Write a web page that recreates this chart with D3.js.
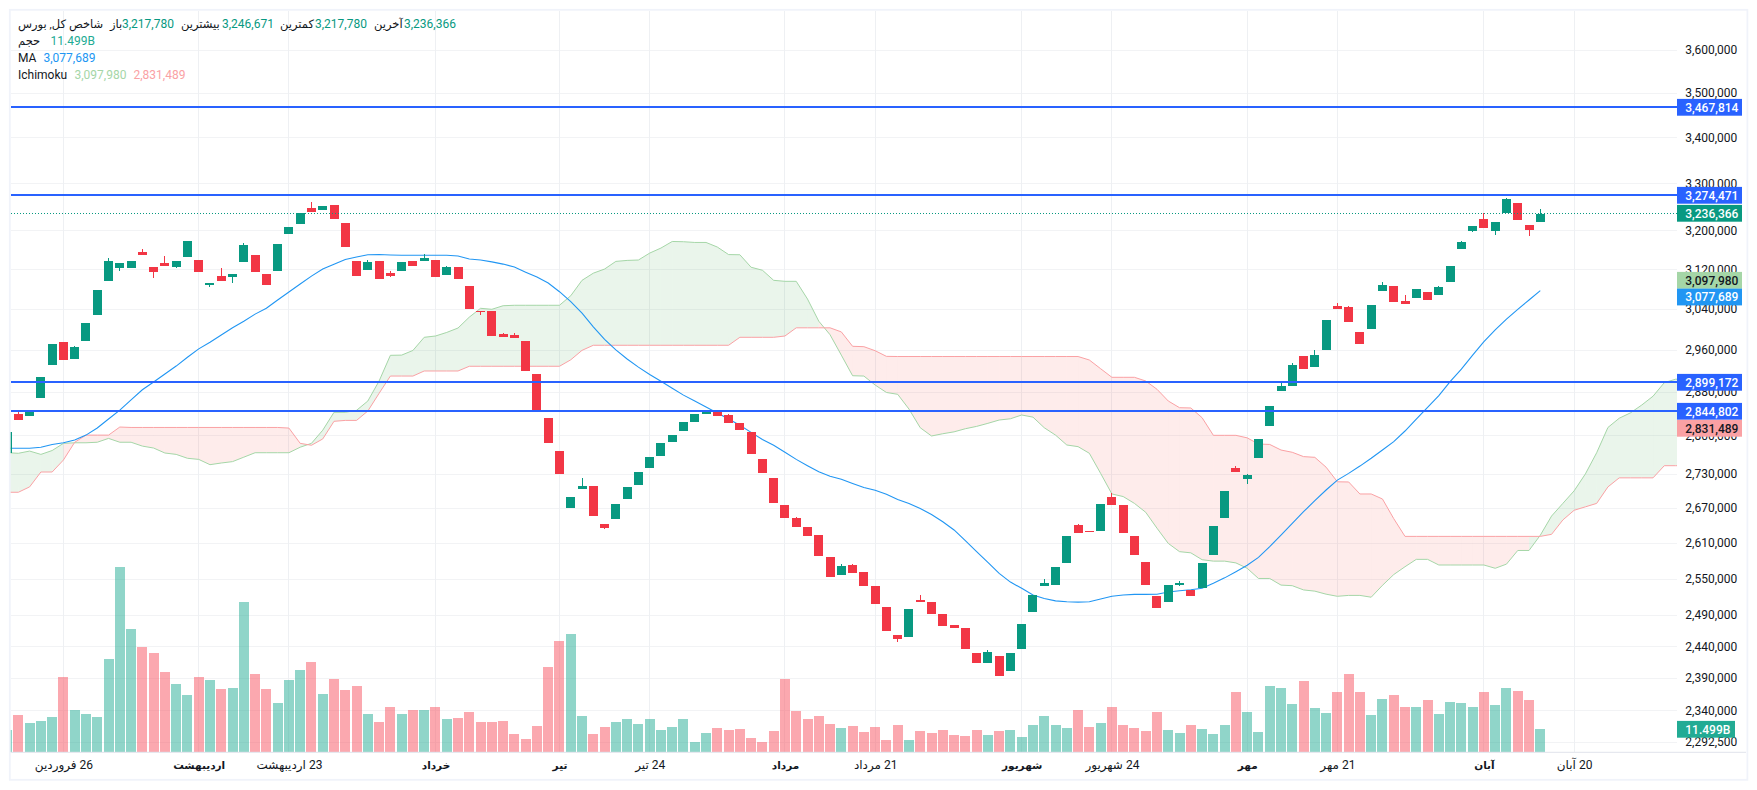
<!DOCTYPE html>
<html lang="fa">
<head>
<meta charset="UTF-8">
<title>شاخص کل</title>
<script src="https://d3js.org/d3.v7.min.js"></script>
<style>
    html, body { margin: 0; background: #fff; }
    svg { display: block; font-family: Roboto, "DejaVu Sans", sans-serif; font-size: 12px; }
    .axis path, .axis line { display: none; }
    .axis text { fill: #131722; font-size: 12px; font-family: Roboto, "DejaVu Sans", sans-serif; }
    .timeAxis text { direction: rtl; }
    .timeAxis text.month { font-weight: 700; font-size: 10.5px; }
    .tagText { font-weight: 500; }
    .legendFa { font-size: 11.5px; }
</style>
</head>
<body>
<svg id="chart" width="1757" height="790"></svg>
<script>
// prices are in thousands, volume in billions
const opens = [
    2769,2840,2836,2870,2932,2976,2944,2978,3029,3097,
    3123,3123,3156,3125,3134,3125,3146,3140,3089,3107,
    3105,3136,3150,3111,3117,3194,3214,3248,3244,3254,
    3216,3138,3119,3138,3113,3117,3138,3138,3140,3109,
    3125,3087,3037,3037,2992,2990,2978,2915,2832,2772,
    2671,2704,2709,2643,2652,2687,2711,2742,2763,2788,
    2808,2825,2840,2845,2838,2823,2807,2758,2724,2676,
    2654,2638,2624,2587,2557,2574,2562,2539,2504,2459,
    2456,2515,2512,2493,2475,2470,2430,2414,2425,2402,
    2436,2496,2539,2540,2577,2642,2631,2631,2690,2676,
    2623,2578,2522,2512,2540,2532,2535,2590,2654,2742,
    2722,2760,2818,2883,2892,2949,2928,2961,3047,3045,
    2996,3002,3077,3087,3057,3063,3075,3069,3095,3162,
    3200,3225,3200,3237,3259,3212,3217.78];
const highs = [
    2807,2843,2845,2909,2972,2976,2969,3013,3079,3144,
    3134,3138,3162,3125,3148,3138,3179,3140,3093,3123,
    3111,3175,3150,3111,3173,3208,3237,3261,3252,3254,
    3216,3138,3140,3138,3117,3136,3138,3152,3140,3128,
    3125,3087,3037,3037,2994,2994,2978,2915,2832,2772,
    2690,2724,2709,2643,2678,2708,2734,2761,2787,2801,
    2825,2840,2845,2845,2840,2823,2807,2758,2724,2676,
    2655,2638,2624,2587,2575,2575,2562,2539,2504,2459,
    2501,2524,2512,2493,2475,2470,2430,2435,2425,2430,
    2476,2524,2550,2570,2623,2643,2631,2678,2697,2676,
    2623,2578,2522,2540,2547,2532,2577,2640,2701,2745,
    2731,2794,2855,2902,2936,2949,2961,3019,3053,3047,
    2996,3049,3095,3087,3069,3081,3075,3087,3127,3179,
    3210,3237,3218,3269,3259,3212,3246.671];
const lows = [
    2769,2829,2836,2870,2932,2942,2944,2978,3029,3097,
    3117,3123,3150,3103,3127,3123,3146,3115,3085,3097,
    3093,3136,3115,3089,3117,3194,3214,3240,3244,3225,
    3167,3107,3119,3101,3105,3117,3127,3138,3105,3109,
    3101,3041,3029,2988,2986,2984,2921,2843,2787,2731,
    2671,2704,2657,2635,2652,2687,2711,2742,2763,2788,
    2808,2825,2840,2836,2823,2810,2767,2733,2680,2654,
    2638,2623,2589,2553,2557,2560,2539,2509,2465,2448,
    2456,2512,2493,2473,2470,2436,2414,2414,2394,2402,
    2436,2496,2539,2540,2577,2628,2630,2631,2676,2628,
    2590,2540,2502,2512,2538,2522,2535,2590,2654,2734,
    2713,2760,2818,2883,2892,2924,2928,2961,3041,3015,
    2972,3002,3077,3055,3051,3063,3059,3069,3095,3162,
    3198,3206,3191,3237,3223,3189,3217.78];
const closes = [
    2807,2829,2845,2909,2972,2942,2967,3013,3079,3138,
    3134,3138,3150,3115,3127,3138,3179,3115,3093,3097,
    3111,3171,3115,3089,3173,3208,3237,3240,3252,3225,
    3167,3107,3136,3101,3107,3136,3127,3144,3105,3125,
    3101,3041,3035,2988,2986,2984,2921,2843,2787,2731,
    2690,2709,2657,2636,2678,2708,2734,2761,2787,2801,
    2825,2840,2845,2836,2823,2810,2767,2733,2680,2654,
    2638,2623,2589,2553,2572,2560,2539,2509,2465,2452,
    2501,2512,2493,2473,2470,2436,2414,2431,2394,2430,
    2476,2524,2543,2570,2623,2628,2630,2678,2676,2628,
    2590,2540,2502,2540,2543,2522,2577,2640,2701,2734,
    2729,2794,2855,2892,2932,2924,2951,3019,3041,3015,
    2972,3049,3089,3055,3051,3081,3059,3085,3127,3177,
    3210,3206,3218,3267,3223,3202,3236.366];
const volumes = [
    11,18.5,14.5,15.5,17.5,37.5,21,19,17.5,46.5,
    92.5,61.5,52.5,49.5,40,34,28.5,37.5,36,31.5,
    32,75,39,31.5,24.5,36,41,45,29,36.5,
    31,33,19,15,22.5,19,21,21,22.5,16.5,
    17,20,15,15,15.5,9,6.5,13,42.5,55.5,
    59,18,9,12.5,15,16.5,14,16.5,11,12.5,
    16.5,5,9.5,12,11,11.5,7,5,10.5,36.5,
    20.5,16.5,18,14,12,13,10,12.5,6,13.5,
    6,10.5,9.5,11,8.5,8,11,8.5,10.5,11,
    7.5,13.5,18,13.5,12,21,12.5,14.5,22.5,13.5,
    12,10.5,20,11,9.5,13.5,11.5,9,13.5,30,
    20,10,33,32,24,35.5,22,19.5,30,39,
    30,18.5,26.5,28.5,22.5,22.5,26,19,25,24.5,
    22.5,30,23.5,32,30.5,26,11.499];
const maValues = [
    2777,2777,2777,2779,2784,2787,2792,2801,2814,2830.5,
    2847,2866,2885,2899.7,2915,2930,2947,2963,2976,2990,
    3004,3017,3031,3042.5,3059,3075,3091,3107,3121.5,3131,
    3141,3146,3150.6,3151,3150,3149.5,3149.5,3149.5,3149.5,3149.5,
    3148,3142,3140,3136,3131.5,3125.5,3115,3105,3093,3075.6,
    3055.6,3033,3006,2981.6,2961,2943.5,2928,2914,2901,2888,
    2875,2864,2853,2841.6,2830.5,2819,2806,2793,2782.5,2770,
    2757,2745.7,2735,2727,2721.5,2714,2707,2702,2695,2686,
    2679,2670,2659.7,2647,2633,2614.6,2596,2578,2559.5,2545,
    2534.7,2523.6,2518,2514,2512.6,2512,2512.6,2517,2521.5,2523.6,
    2524.7,2524.7,2525,2528.6,2530.7,2532.4,2534.7,2543,2552,2562.3,
    2573,2586.4,2604.5,2624.3,2644.5,2664.5,2683.7,2702.5,2720,2732,
    2745,2759,2774,2789,2808.5,2830.5,2852,2874,2900.6,2924,
    2951,2977,3000,3021,3040.5,3059,3077.689];
const leadA = [
    2769,2768,2772,2766,2773,2786,2787,2787,2788,2795,
    2788,2788,2781,2777.5,2768.5,2766,2759,2757,2747.5,2750.5,
    2753,2761,2769,2769,2769,2769,2779,2786,2810,2843,
    2843,2846.6,2864,2901.6,2950.6,2951,2960,2985.5,2988,2995,
    3003.6,3025,3042.5,3040.5,3047.6,3048.5,3048.5,3048.5,3048.5,3048.5,
    3067.5,3098.5,3113,3121.4,3137,3139,3139.8,3154,3164.4,3178,
    3177.5,3176,3176,3166.5,3151,3150.6,3125,3119,3098.5,3096.5,
    3096.5,3061,3017,2990.5,2951,2911.6,2911,2894,2880,2876.5,
    2849,2814.5,2799.4,2803.5,2807,2812.7,2817,2822.6,2828.7,2831,
    2838,2834,2814.5,2801,2783,2780,2768,2732,2695.5,2691,
    2679,2663.5,2636,2610,2596,2594,2582.4,2580,2580,2577,
    2568,2551,2551,2540,2539,2532,2530,2525,2521.5,2523,
    2523,2520,2539.6,2557.5,2570.6,2583,2583,2573.5,2573.5,2573.5,
    2573.5,2573.5,2568,2575,2598,2598,2624,2657,2679,2701,
    2731,2769,2815,2832,2842,2856.5,2873,2898.5,2905,2905];
const leadB = [
    2698.5,2698.5,2708,2734.4,2734.4,2755.9,2788,2801,2801,2801,
    2815.8,2815,2815,2815,2815,2815,2815,2815,2815,2815,
    2815,2815,2815,2815,2815,2813.9,2786,2782.5,2794,2826.3,
    2828,2828,2845.4,2878.4,2911,2911,2911,2920.6,2920.6,2920.6,
    2920.6,2929.6,2929.6,2929.6,2929.6,2929.6,2929.6,2929.6,2929.6,2929.6,
    2942,2960.2,2970,2970,2970,2970,2970,2970,2970,2970,
    2970,2970,2970,2970,2970,2985.5,2985.5,2985.5,2985.5,2988,
    3004,3004,3004,3004,2996,2968,2967.3,2959.5,2948.6,2948.3,
    2948.3,2948.3,2948.3,2948.3,2948.3,2948.3,2948.3,2948.3,2948.3,2948.3,
    2948.3,2948.3,2948.3,2948.3,2948.3,2948.3,2941.6,2925,2908.6,2908.6,
    2908.6,2901.6,2886,2864,2851.5,2851,2833,2800.6,2800.6,2800.6,
    2796,2784.8,2784,2773.9,2769.8,2762,2760.7,2743,2717,2716.7,
    2695.5,2695.5,2686.7,2652.5,2622,2622,2622,2622,2622,2622,
    2622,2622,2622,2622,2622,2622,2622,2625.5,2650.2,2667,
    2673,2679,2708,2724,2724,2724,2724,2745.7,2745.7,2745.7];

const tickPrices = [3600000,3500000,3400000,3300000,3200000,3120000,3040000,2960000,2880000,2800000,
    2730000,2670000,2610000,2550000,2490000,2440000,2390000,2340000,2292500];
const timeTicks = [5,17,25,38,49,57,69,77,90,98,110,118,131,139];
const timeLabels = ["26 فروردین","اردیبهشت","23 اردیبهشت","خرداد","تیر","24 تیر","مرداد","21 مرداد","شهریور","24 شهریور","مهر","21 مهر","آبان","20 آبان"];
const monthNames = ["اردیبهشت","خرداد","تیر","مرداد","شهریور","مهر","آبان"];
const levelLines = [3467814,3274471,2899172,2844802];

const upColor = "#089981", downColor = "#f23645", lineBlue = "#2962ff";
const plotLeft = 10.7, plotRight = 1677, plotTop = 10.7, plotBottom = 752.3;

const svg = d3.select("#chart");

// frame
svg.append("rect").attr("x",9.8).attr("y",9.8).attr("width",1737.6).attr("height",770)
    .attr("fill","#fff").attr("stroke","#f0f3fa").attr("stroke-width",1.8);

svg.append("defs").append("clipPath").attr("id","plotClip").append("rect")
    .attr("x",plotLeft).attr("y",plotTop).attr("width",plotRight-plotLeft).attr("height",plotBottom-plotTop);

const x = d3.scaleLinear().domain([0,136]).range([7.07,1540.3]);
const y = d3.scaleLog().domain([3600000,2292500]).range([50.3,742.3]);
const yk = k => y(k*1000);
const yVol = d3.scaleLinear().domain([0,11.499]).range([752,729]);

// grid
const grid = svg.append("g").attr("stroke-width",1).attr("shape-rendering","crispEdges");
grid.selectAll(".h").data(tickPrices).enter().append("line")
    .attr("x1",plotLeft).attr("x2",plotRight).attr("y1",d=>y(d)).attr("y2",d=>y(d)).attr("stroke","#f2f3f5");
grid.selectAll(".v").data(timeTicks).enter().append("line")
    .attr("x1",d=>x(d)).attr("x2",d=>x(d)).attr("y1",plotTop).attr("y2",plotBottom).attr("stroke","#eef0f3");

const plot = svg.append("g").attr("clip-path","url(#plotClip)");

// volume
plot.append("g").attr("shape-rendering","crispEdges").selectAll("rect").data(volumes).enter().append("rect")
    .attr("x",(d,i)=>x(i)-5).attr("width",10)
    .attr("y",d=>yVol(d)).attr("height",d=>yVol(0)-yVol(d))
    .attr("fill",(d,i)=>closes[i]>=opens[i] ? "#22ab94" : "#f7525f")
    .attr("fill-opacity",.5);

// ichimoku cloud, coloured per segment
const cloudArea = d3.area().x(d=>x(d)).y0(d=>yk(leadA[d])).y1(d=>yk(leadB[d]));
const cloud = plot.append("g");
leadA.slice(1).forEach((a,i)=>{
    cloud.append("path").attr("d",cloudArea([i,i+1]))
        .attr("fill", a>=leadB[i+1] ? "rgba(67,160,71,.11)" : "rgba(244,67,54,.1)");
});
const lineOf = d3.line().x((d,i)=>x(i)).y(d=>yk(d));
plot.append("path").attr("d",lineOf(leadA)).attr("fill","none").attr("stroke","#a5d6a7").attr("stroke-width",1);
plot.append("path").attr("d",lineOf(leadB)).attr("fill","none").attr("stroke","#faa1a4").attr("stroke-width",1);

// moving average
plot.append("path").attr("d",lineOf(maValues)).attr("fill","none").attr("stroke","#2196f3").attr("stroke-width",1.1);

// candles
const candles = plot.append("g").attr("shape-rendering","crispEdges");
candles.selectAll("line").data(opens).enter().append("line")
    .attr("x1",(d,i)=>x(i)).attr("x2",(d,i)=>x(i))
    .attr("y1",(d,i)=>yk(highs[i])).attr("y2",(d,i)=>yk(lows[i]))
    .attr("stroke",(d,i)=>closes[i]>=d ? upColor : downColor);
candles.selectAll("rect").data(opens).enter().append("rect")
    .attr("x",(d,i)=>x(i)-4.5).attr("width",9)
    .attr("y",(d,i)=>yk(Math.max(d,closes[i])))
    .attr("height",(d,i)=>Math.max(1,Math.abs(yk(d)-yk(closes[i]))))
    .attr("fill",(d,i)=>closes[i]>=d ? upColor : downColor);

// horizontal levels and last price
plot.append("line").attr("x1",plotLeft).attr("x2",plotRight).attr("y1",y(3236366)).attr("y2",y(3236366))
    .attr("stroke",upColor).attr("stroke-width",1).attr("stroke-dasharray","1 2").attr("shape-rendering","crispEdges");
plot.selectAll(".level").data(levelLines).enter().append("line")
    .attr("x1",plotLeft).attr("x2",plotRight).attr("y1",d=>Math.floor(y(d))).attr("y2",d=>Math.floor(y(d)))
    .attr("stroke",lineBlue).attr("stroke-width",2).attr("shape-rendering","crispEdges");

// time axis
const timeAxis = d3.axisBottom(x).tickValues(timeTicks).tickSize(0).tickPadding(0)
    .tickFormat((d,i)=>timeLabels[i]);
const timeG = svg.append("g").attr("class","axis timeAxis").attr("transform","translate(0,"+plotBottom+")").call(timeAxis);
timeG.selectAll("text").attr("dy",null).attr("y",17).classed("month",(d,i)=>monthNames.includes(timeLabels[i]));
svg.append("line").attr("x1",plotLeft).attr("x2",1746).attr("y1",plotBottom).attr("y2",plotBottom).attr("stroke","#e0e3eb");

// price axis
const priceAxis = d3.axisRight(y).tickValues(tickPrices).tickSize(0).tickPadding(0).tickFormat(d3.format(","));
svg.append("g").attr("class","axis priceAxis").attr("transform","translate(1685.3,0)").call(priceAxis)
    .selectAll("text").attr("y",-0.5);

// axis tags
const tags = [
    {text:"3,467,814", y:107.3, fill:lineBlue, color:"#fff", w:65},
    {text:"3,274,471", y:195.3, fill:lineBlue, color:"#fff", w:65},
    {text:"3,236,366", y:213.3, fill:upColor, color:"#fff", w:65},
    {text:"3,097,980", y:280.3, fill:"#a5d6a7", color:"#131722", w:65},
    {text:"3,077,689", y:297, fill:"#2196f3", color:"#fff", w:65},
    {text:"2,899,172", y:382.3, fill:lineBlue, color:"#fff", w:65},
    {text:"2,844,802", y:411.3, fill:lineBlue, color:"#fff", w:65},
    {text:"2,831,489", y:428.3, fill:"#faa1a4", color:"#131722", w:65},
    {text:"11.499B", y:729.3, fill:"#22ab94", color:"#fff", w:58}
];
const tagG = svg.append("g").selectAll("g").data(tags).enter().append("g");
tagG.append("rect").attr("x",1677).attr("y",d=>d.y-8.4).attr("width",d=>d.w).attr("height",16.8).attr("fill",d=>d.fill);
tagG.append("text").attr("class","tagText").attr("x",1685.3).attr("y",d=>d.y+4.2).attr("fill",d=>d.color).text(d=>d.text);

// legend
const legendRows = [
    {x:18, y:28, t:"شاخص کل, بورس", c:"#131722", fa:true},
    {x:110, y:28, t:"باز", c:"#131722", fa:true},
    {x:122, y:28, t:"3,217,780", c:upColor},
    {x:181, y:28, t:"بیشترین", c:"#131722", fa:true},
    {x:222, y:28, t:"3,246,671", c:upColor},
    {x:280, y:28, t:"کمترین", c:"#131722", fa:true},
    {x:315, y:28, t:"3,217,780", c:upColor},
    {x:374, y:28, t:"آخرین", c:"#131722", fa:true},
    {x:404, y:28, t:"3,236,366", c:upColor},
    {x:18, y:45, t:"حجم", c:"#131722", fa:true},
    {x:50.5, y:45, t:"11.499B", c:"#22ab94"},
    {x:18, y:62, t:"MA", c:"#131722"},
    {x:43.5, y:62, t:"3,077,689", c:"#2196f3"},
    {x:18, y:79, t:"Ichimoku", c:"#131722"},
    {x:74.5, y:79, t:"3,097,980", c:"#a5d6a7"},
    {x:133.5, y:79, t:"2,831,489", c:"#faa1a4"}
];
svg.append("g").selectAll("text").data(legendRows).enter().append("text")
    .attr("class",d=>d.fa ? "legendFa" : null)
    .attr("x",d=>d.x).attr("y",d=>d.y).attr("fill",d=>d.c).text(d=>d.t);
</script>
</body>
</html>
